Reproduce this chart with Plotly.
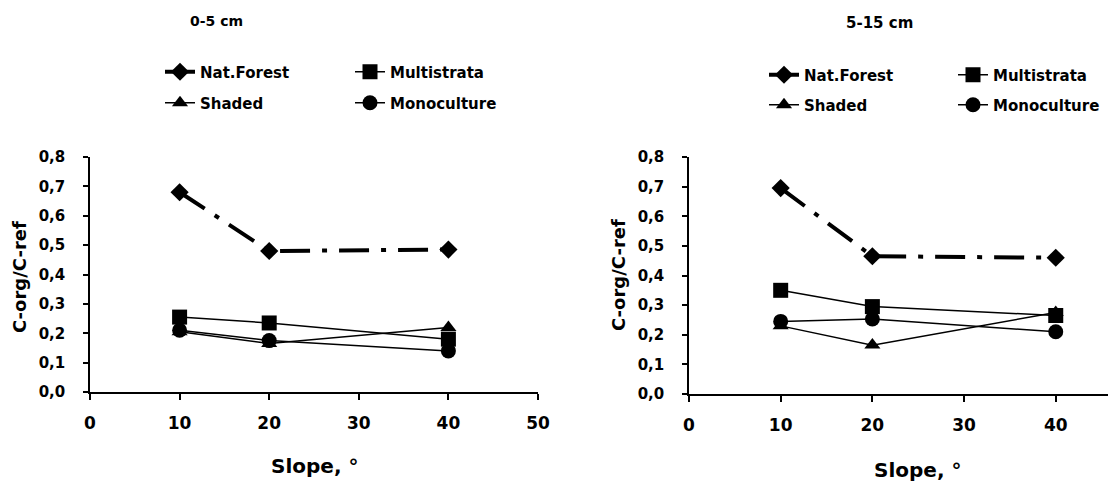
import plotly.graph_objects as go

# ---- data ----
slope = [10, 20, 40]
series_names = ["Nat.Forest", "Multistrata", "Shaded", "Monoculture"]

nat_forest_0_5 = [0.68, 0.48, 0.485]
multistrata_0_5 = [0.255, 0.235, 0.18]
shaded_0_5 = [0.205, 0.165, 0.22]
monoculture_0_5 = [0.21, 0.175, 0.14]

nat_forest_5_15 = [0.695, 0.465, 0.46]
multistrata_5_15 = [0.35, 0.295, 0.265]
shaded_5_15 = [0.23, 0.165, 0.275]
monoculture_5_15 = [0.245, 0.253, 0.21]

panel_titles = ["0-5 cm", "5-15 cm"]
x_title = "Slope, °"
y_title = "C-org/C-ref"
y_ticks = [0, 0.1, 0.2, 0.3, 0.4, 0.5, 0.6, 0.7, 0.8]
x_ticks_left = [0, 10, 20, 30, 40, 50]
x_ticks_right = [0, 10, 20, 30, 40]

W, H = 1109, 483
FONT = "DejaVu Sans"

def px(x):
    return x / W

def py(y):
    return 1 - y / H

styles = {
    "Nat.Forest": dict(symbol="diamond", size=14, width=4, dash="30px,12px,5px,12px"),
    "Multistrata": dict(symbol="square", size=15, width=1.5, dash="solid"),
    "Shaded": dict(symbol="triangle-up", size=14, width=1.5, dash="solid"),
    "Monoculture": dict(symbol="circle", size=15, width=1.5, dash="solid"),
}

panels = [
    dict(xa="x", ya="y", data=[nat_forest_0_5, multistrata_0_5, shaded_0_5, monoculture_0_5]),
    dict(xa="x2", ya="y2", data=[nat_forest_5_15, multistrata_5_15, shaded_5_15, monoculture_5_15]),
]

# legend entry positions (text left x, row center y) in pixels
legend_pos = [
    [(202, 72), (392, 72), (202, 103), (392, 103)],
    [(806, 75), (995, 75), (806, 105), (995, 105)],
]

fig = go.Figure()
legend_layouts = {}
k = 0
for pi, p in enumerate(panels):
    for si, name in enumerate(series_names):
        st = styles[name]
        k += 1
        lg = "legend" if k == 1 else f"legend{k}"
        fig.add_trace(go.Scatter(
            x=slope, y=p["data"][si], name=name, mode="lines+markers",
            xaxis=p["xa"], yaxis=p["ya"], legend=lg, cliponaxis=False,
            line=dict(color="black", width=st["width"], dash=st["dash"]),
            marker=dict(symbol=st["symbol"], size=st["size"], color="black"),
        ))
        tx, ty = legend_pos[pi][si]
        legend_layouts[lg] = dict(
            x=px(tx - 42), y=py(ty), xanchor="left", yanchor="middle",
            bgcolor="rgba(0,0,0,0)", borderwidth=0, itemsizing="trace",
            font=dict(family=FONT, size=15, color="black", weight="bold"),
            tracegroupgap=0,
        )

axis_common = dict(
    showgrid=False, zeroline=False, showline=True, linecolor="black", linewidth=1.5,
    ticks="outside", tickcolor="black", tickwidth=1.5, mirror=False, automargin=False,
)
xtf = dict(family=FONT, size=17, color="black", weight="bold")
ytf = dict(family=FONT, size=15, color="black", weight="bold")

fig.update_layout(
    template="none",
    width=W, height=H, margin=dict(l=0, r=0, t=0, b=0, autoexpand=False),
    paper_bgcolor="white", plot_bgcolor="white",
    separators=",.", showlegend=True,
    xaxis=dict(**axis_common, domain=[px(90), px(538)], range=[0, 50],
               tickvals=x_ticks_left, ticklen=6, ticklabelstandoff=9,
               tickfont=xtf, anchor="y"),
    yaxis=dict(**axis_common, domain=[py(392), py(157)], range=[0, 0.8],
               tickvals=y_ticks, tickformat=".1f", ticklen=5, ticklabelstandoff=15,
               tickfont=ytf, anchor="x"),
    xaxis2=dict(**axis_common, domain=[px(689), px(1108)], range=[0, 45.7],
                tickvals=x_ticks_right, ticklen=6, ticklabelstandoff=9,
                tickfont=xtf, anchor="y2"),
    yaxis2=dict(**axis_common, domain=[py(394), py(157)], range=[0, 0.8],
                tickvals=y_ticks, tickformat=".1f", ticklen=5, ticklabelstandoff=15,
                tickfont=ytf, anchor="x2"),
    **legend_layouts,
)

ann_font = lambda s: dict(family=FONT, size=s, color="black", weight="bold")
annotations = [
    dict(text=panel_titles[0], x=px(216), y=py(21), font=ann_font(14)),
    dict(text=panel_titles[1], x=px(879), y=py(23), font=ann_font(15)),
    dict(text=x_title, x=px(314), y=py(466), font=ann_font(20)),
    dict(text=x_title, x=px(917), y=py(470), font=ann_font(20)),
    dict(text=y_title, x=px(19), y=py(277), font=ann_font(18), textangle=-90),
    dict(text=y_title, x=px(618), y=py(275), font=ann_font(18), textangle=-90),
]
for a in annotations:
    a.update(xref="paper", yref="paper", showarrow=False, xanchor="center", yanchor="middle")
fig.update_layout(annotations=annotations)

# remove the browser's default 8px body margin so the figure fills the window
fig.write_html(
    "out.html",
    config={"displayModeBar": False},
    post_script="document.body.style.margin='0';document.body.style.overflow='hidden';",
)
